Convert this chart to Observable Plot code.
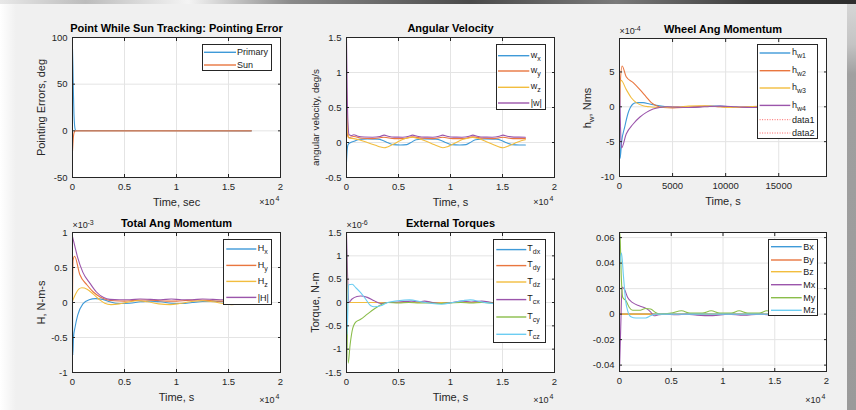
<!DOCTYPE html>
<html>
<head>
<meta charset="utf-8">
<script src="https://cdn.jsdelivr.net/npm/d3@7"></script>
<script src="https://cdn.jsdelivr.net/npm/@observablehq/plot@0.6"></script>
<style>
  html, body { margin: 0; padding: 0; background: #f0f0f0; }
  #fig { position: relative; width: 856px; height: 410px; overflow: hidden; background: #f0f0f0;
         font-family: "Liberation Sans", Arial, Helvetica, sans-serif; color: #262626; }
  #topbar { position: absolute; left: 0; top: 0; width: 856px; height: 4px;
    background: linear-gradient(90deg, #e8e8e8 0%, #bcbcbc 10%, #f4f4f4 22%, #8a8a8a 34%, #4a4a4a 55%, #7a7a7a 72%, #3c3c3c 88%, #2e2e2e 100%); }
  #leftfade { position: absolute; left: 0; top: 4px; width: 16px; height: 406px; background: linear-gradient(90deg, #ffffff, #f0f0f0); }
  #rightbar { position: absolute; left: 847px; top: 4px; width: 9px; height: 406px;
    background: linear-gradient(180deg, #d6d6d6 0px, #c4c4c4 40px, #a0a0a0 70px, #9a9a9a 100%); }
  .legend { position: absolute; background: #fff; border: 1px solid #262626; box-sizing: border-box;
            font-size: 9px; color: #1a1a1a; }
  .legend span { position: absolute; white-space: nowrap; line-height: 1; transform: translateY(-50%); }
  .legend sub { font-size: 7px; vertical-align: -3px; line-height: 1; }
  .legend svg.lg { position: absolute; left: 0; top: 0; overflow: visible; }
  .ylab { position: absolute; white-space: nowrap; font-size: 11px; color: #262626; line-height: 1;
          transform: translate(-50%, -50%) rotate(-90deg); }
  .ylab sub { font-size: 8px; vertical-align: -3px; line-height: 1; }
  svg { position: absolute; overflow: visible; }
</style>
</head>
<body>
<div id="fig"><div id="topbar"></div><div id="leftfade"></div><div id="rightbar"></div></div>
<script>
// ---------------- colours (MATLAB default order, as they appear) ----------------
const BLUE = "#3f9ad8", ORANGE = "#e9763f", YELLOW = "#f2bd3e", PURPLE = "#9b55ab", GREEN = "#8abd4a", CYAN = "#6ccdf2", RED = "#ff6060";

// ---------------- tick values ----------------
const timeTicks = [0, 5000, 10000, 15000, 20000];
const wheelTimeTicks = [0, 5000, 10000, 15000];
const peYTicks = [-50, 0, 50, 100];
const avYTicks = [-0.5, 0, 0.5, 1, 1.5];
const hwYTicks = [-10, -5, 0, 5];
const hYTicks = [-1, -0.5, 0, 0.5, 1];
const tqYTicks = [-1.5, -1, -0.5, 0, 0.5, 1, 1.5];
const bmYTicks = [-0.04, -0.02, 0, 0.02, 0.04, 0.06];

// ---------------- Panel 1: pointing error (deg) vs time (s) ----------------
const peNames = ["Primary", "Sun"];
const pePrimary = [[0,88],[40,70],[90,40],[140,18],[200,6],[260,1.5],[320,0.2],[17200,0]];
const peSun = [[0,-22],[40,-14],[90,-6],[140,-2.5],[200,-0.8],[300,0],[17200,0]];

// ---------------- Panel 2: angular velocity (deg/s) ----------------
const avNames = ["w_x", "w_y", "w_z", "|w|"];
const avWx = [[0,-0.28],[60,-0.12],[150,-0.03],[400,0.0],[800,0.02],[1200,0.045],[2000,0.05],[3000,0.048],[3500,0.03],[4000,-0.005],[4500,-0.03],[5200,-0.035],[5800,-0.03],[6200,0.0],[6700,0.04],[7500,0.05],[8600,0.048],[9100,0.03],[9600,-0.005],[10100,-0.03],[10900,-0.035],[11500,-0.03],[11900,0.0],[12400,0.04],[13300,0.05],[14400,0.048],[14900,0.03],[15400,-0.005],[15900,-0.03],[16600,-0.035],[17200,-0.035]];
const avWy = [[0,0.5],[80,0.12],[200,0.07],[700,0.085],[1500,0.06],[2500,0.055],[3600,0.075],[4600,0.055],[5500,0.055],[6350,0.08],[7300,0.06],[8300,0.055],[9250,0.075],[10200,0.055],[11200,0.055],[12150,0.08],[13100,0.06],[14100,0.055],[15050,0.075],[16000,0.055],[17200,0.055]];
const avWz = [[0,0.78],[100,0.3],[200,0.08],[300,0.06],[700,0.055],[1200,0.04],[2000,0.0],[2800,-0.04],[3300,-0.065],[3600,-0.075],[4000,-0.06],[4700,-0.01],[5500,0.05],[6000,0.07],[6350,0.075],[6800,0.06],[7600,0.02],[8400,-0.03],[9000,-0.065],[9250,-0.075],[9700,-0.06],[10400,-0.01],[11200,0.045],[11800,0.065],[12150,0.072],[12600,0.06],[13400,0.015],[14200,-0.035],[14800,-0.07],[15050,-0.075],[15500,-0.055],[16200,-0.01],[16800,0.025],[17200,0.04]];
const avMag = [[0,1.5],[60,0.8],[150,0.25],[250,0.11],[450,0.1],[700,0.11],[1100,0.09],[1700,0.078],[2500,0.076],[3200,0.085],[3620,0.105],[4000,0.09],[4600,0.077],[5400,0.076],[6000,0.09],[6350,0.105],[6800,0.09],[7500,0.077],[8300,0.076],[8900,0.09],[9250,0.105],[9650,0.09],[10300,0.077],[11100,0.076],[11800,0.09],[12150,0.105],[12550,0.09],[13200,0.077],[14000,0.076],[14700,0.09],[15050,0.105],[15450,0.09],[16100,0.077],[17200,0.076]];

// ---------------- Panel 3: wheel angular momentum (x1e-4 Nms) ----------------
const hwNames = ["h_w1", "h_w2", "h_w3", "h_w4", "data1", "data2"];
const hw1 = [[0,0],[60,-7.4],[200,-5],[475,-3],[790,-1],[1266,0.4],[1582,0.6],[2215,0.6],[2850,0.4],[3480,0.2],[4430,0],[5500,-0.1],[6500,-0.1],[7500,0],[8500,0.1],[9500,0.1],[10500,0],[11500,-0.1],[12500,-0.05],[13500,0.05],[14500,0.1],[15500,0.05],[16500,-0.05],[17200,-0.1]];
const hw2 = [[0,0],[60,3],[250,5.85],[630,4.3],[1266,3.5],[1900,2.5],[2530,1.4],[3000,0.6],[3480,0.15],[4110,-0.1],[5000,-0.15],[6000,-0.1],[7000,0],[8000,0.1],[9000,0.05],[10000,-0.05],[11000,-0.1],[12000,-0.05],[13000,0.05],[14000,0.1],[15000,0.05],[16000,-0.05],[17200,-0.1]];
const hw3 = [[0,0],[60,3],[150,3.8],[630,2.5],[1108,1.3],[1582,0.6],[2215,0.14],[2850,0],[3500,-0.1],[4500,-0.05],[5500,0],[6500,0.1],[7500,0.15],[8500,0.1],[9500,0],[10500,-0.1],[11500,-0.05],[12500,0.05],[13500,0.1],[14500,0.05],[15500,0],[17200,-0.05]];
const hw4 = [[0,4.5],[80,-2],[190,-5.9],[633,-3.9],[1266,-2.5],[1900,-1.5],[2530,-0.8],[3165,-0.33],[3800,-0.1],[4500,0],[5500,-0.05],[6500,-0.1],[7500,-0.05],[8500,0.05],[9500,0.1],[10500,0.05],[11500,-0.05],[12500,-0.1],[13500,-0.05],[14500,0.05],[15500,0.05],[17200,0]];

// ---------------- Panel 4: total angular momentum (x1e-3 N-m-s) ----------------
const hNames = ["H_x", "H_y", "H_z", "|H|"];
const hX = [[0,0],[30,-0.75],[100,-0.5],[250,-0.35],[500,-0.18],[1000,-0.02],[1600,0.04],[2200,0.055],[2900,0.045],[3600,0.01],[4500,-0.015],[5500,-0.01],[6500,0.01],[7500,0.02],[8500,0.01],[9500,-0.01],[10500,-0.015],[11500,0],[12500,0.015],[13500,0.02],[14500,0.01],[15500,-0.005],[16500,-0.01],[17200,-0.01]];
const hY = [[0,0],[50,0.6],[200,0.66],[700,0.4],[1400,0.25],[2000,0.15],[2650,0.08],[3300,0.04],[4000,0.025],[5000,0.02],[6000,0.03],[7000,0.035],[8000,0.03],[9000,0.02],[10000,0.02],[11000,0.03],[12000,0.035],[13000,0.03],[14000,0.02],[15000,0.02],[16000,0.03],[17200,0.03]];
const hZ = [[0,0.02],[300,0.12],[600,0.19],[900,0.21],[1400,0.19],[2000,0.12],[2600,0.04],[3100,-0.01],[3700,-0.03],[4500,-0.02],[5300,0.005],[6300,0.025],[7200,0.01],[8300,-0.02],[9400,-0.03],[10300,-0.015],[11300,0.01],[12500,0.025],[13500,0.01],[14500,-0.015],[15300,-0.03],[16300,-0.01],[17200,0.01]];
const hMag = [[0,0.94],[200,0.82],[500,0.64],[1000,0.43],[1700,0.27],[2300,0.15],[3000,0.07],[3600,0.045],[4500,0.04],[5500,0.04],[6500,0.05],[7500,0.045],[8500,0.04],[9500,0.05],[10500,0.04],[11500,0.04],[12500,0.05],[13500,0.045],[14500,0.04],[15500,0.045],[17200,0.04]];

// ---------------- Panel 5: external torques (x1e-6 N-m) ----------------
const tqNames = ["T_dx", "T_dy", "T_dz", "T_cx", "T_cy", "T_cz"];
const tDx = [[0,0],[17200,0]];
const tDy = [[0,0],[17200,0]];
const tDz = [[0,0],[17200,0]];
const tCx = [[0,1.5],[100,0.6],[230,0],[500,0.07],[1000,0.13],[1360,0.14],[2000,0.11],[2660,0.036],[3300,-0.02],[3960,0],[5000,0.01],[6230,0.03],[6900,0.015],[7500,0.03],[8300,0.0],[9150,-0.02],[10000,-0.005],[11100,0.03],[12000,0.01],[13000,0.03],[14000,0.0],[15000,-0.02],[16000,0.0],[17200,0.02]];
const tCy = [[0,1.14],[160,-1.3],[350,-0.9],[550,-0.6],[880,-0.42],[1360,-0.36],[2000,-0.25],[2660,-0.14],[3300,-0.05],[3960,0],[5000,-0.01],[6000,0.0],[7000,-0.01],[8000,-0.01],[9000,-0.02],[10000,-0.01],[11000,0],[12000,-0.01],[13000,0],[14000,-0.01],[15000,-0.01],[17200,0]];
const tCz = [[0,0],[60,-0.68],[200,0.38],[550,0.39],[880,0.32],[1360,0.21],[1850,0.07],[2340,-0.07],[2660,-0.09],[3300,-0.07],[3960,0],[4900,0.036],[6070,0.057],[7200,0.014],[8200,-0.02],[9150,-0.036],[10200,0.0],[11200,0.04],[11900,0.057],[13000,0.01],[14000,-0.02],[15000,-0.03],[16000,0],[17200,0.04]];

// ---------------- Panel 6: B and M components ----------------
const bmNames = ["Bx", "By", "Bz", "Mx", "My", "Mz"];
const bX = [[0,0],[17200,0]];
const bY = [[0,0],[17200,0]];
const bZ = [[0,0.034],[30,0],[17200,0]];
const mX = [[0,-0.045],[120,-0.01],[250,0.0213],[475,0.0195],[790,0.013],[1270,0.009],[1900,0.0065],[2530,0.0047],[3000,0.0018],[3320,-0.0013],[3800,-0.0005],[4300,0],[5500,-0.0005],[6500,0],[7500,-0.0008],[9000,-0.0012],[10500,0],[12000,-0.0008],[13500,0],[15000,-0.001],[17200,0]];
const mY = [[0,0.064],[60,0.06],[170,0.03],[316,0.013],[630,0.0104],[950,0.0052],[1270,0.003],[1900,0.003],[2530,0.0044],[3000,0.004],[3480,0.0013],[3950,0],[5000,0.0008],[6000,0.0026],[6800,0.0008],[8000,0.0008],[8860,0.0026],[9700,0.0008],[10800,0.0008],[11550,0.0026],[12400,0.0008],[13500,0.0008],[14240,0.0026],[15000,0.0008],[17200,0.001]];
const mZ = [[0,0.035],[190,0.048],[380,0.03],[600,0.01],[790,0.0026],[1100,-0.002],[1580,-0.003],[2530,-0.003],[3000,-0.0013],[3480,0],[17200,0]];

// ---------------- helpers ----------------
const AXIS = "#262626", GRID = "#e4e4e4";
const SVGNS = "http://www.w3.org/2000/svg";
const num = v => String(+v.toFixed(4));
const t1e4 = v => num(v / 1e4);
const subHtml = s => { const i = s.indexOf("_"); return i < 0 ? s : s.slice(0, i) + "<sub>" + s.slice(i + 1) + "</sub>"; };
const fig = document.getElementById("fig");

const panels = [
  { box: [72, 280, 37, 177], xdom: [0, 20000], ydom: [-50, 100], xticks: timeTicks, yticks: peYTicks, xfmt: t1e4,
    title: "Point While Sun Tracking: Pointing Error", xlabel: "Time, sec", ylabel: "Pointing Errors, deg",
    xexp: "4", xexpDy: 25, series: [pePrimary, peSun], colors: [BLUE, ORANGE], names: peNames,
    legend: { x: 202, y: 44, w: 70, h: 27, lx0: 2, lx1: 34, tx: 35, rows: [8.3, 21] } },
  { box: [346, 554, 37, 177], xdom: [0, 20000], ydom: [-0.5, 1.5], xticks: timeTicks, yticks: avYTicks, xfmt: t1e4,
    title: "Angular Velocity", xlabel: "Time, s", ylabel: "angular velocity, deg/s", ylabelSize: 9.8, ylabelShift: 10,
    xexp: "4", xexpDy: 25, series: [avWx, avWy, avWz, avMag], colors: [BLUE, ORANGE, YELLOW, PURPLE], names: avNames,
    legend: { x: 496, y: 44, w: 49.5, h: 66, lx0: 2, lx1: 33.3, tx: 34.7, rows: [11.7, 27, 43.3, 59] } },
  { box: [619, 826, 38, 176], xdom: [0, 19500], ydom: [-10, 9.8], xticks: wheelTimeTicks, yticks: hwYTicks, xfmt: num,
    title: "Wheel Ang Momentum", xlabel: "Time, s", ylabelHtml: "h<sub>w</sub>, Nms",
    yexp: "-4", series: [hw1, hw2, hw3, hw4], colors: [BLUE, ORANGE, YELLOW, PURPLE, RED, RED], names: hwNames, dotted: [4, 5],
    legend: { x: 756.7, y: 44.3, w: 61, h: 95, lx0: 2.6, lx1: 33.3, tx: 35.3, rows: [9, 26.7, 44, 61.4, 75.7, 89] } },
  { box: [72, 280, 232, 372], xdom: [0, 20000], ydom: [-1, 1], xticks: timeTicks, yticks: hYTicks, xfmt: t1e4,
    title: "Total Ang Momentum", xlabel: "Time, s", ylabel: "H, N-m-s",
    xexp: "4", xexpDy: 28, yexp: "-3", series: [hX, hY, hZ, hMag], colors: [BLUE, ORANGE, YELLOW, PURPLE], names: hNames,
    legend: { x: 222.7, y: 239.3, w: 49.5, h: 66, lx0: 3.3, lx1: 33.3, tx: 35, rows: [10, 26.4, 42.4, 58.4] } },
  { box: [346, 554, 232, 372], xdom: [0, 20000], ydom: [-1.5, 1.5], xticks: timeTicks, yticks: tqYTicks, xfmt: t1e4,
    title: "External Torques", xlabel: "Time, s", ylabel: "Torque, N-m",
    xexp: "4", xexpDy: 28, yexp: "-6", series: [tDx, tDy, tDz, tCx, tCy, tCz], colors: [BLUE, ORANGE, YELLOW, PURPLE, GREEN, CYAN], names: tqNames,
    legend: { x: 492.7, y: 238.7, w: 53, h: 104.6, lx0: 3.3, lx1: 33.3, tx: 34.6, rows: [10.6, 26.6, 43, 60.6, 78, 95.3] } },
  { box: [619, 826, 232, 371], xdom: [0, 20000], ydom: [-0.045, 0.064], xticks: timeTicks, yticks: bmYTicks, xfmt: t1e4,
    xexp: "4", xexpDy: 29, series: [bX, bY, bZ, mX, mY, mZ], colors: [BLUE, ORANGE, YELLOW, PURPLE, GREEN, CYAN], names: bmNames,
    legend: { x: 768.3, y: 239, w: 50, h: 77, lx0: 3, lx1: 33.7, tx: 35, rows: [7.7, 21, 32.7, 45.7, 58.7, 71.3] } }
];

function makePanel(p) {
  const [L, R, T, B] = p.box;
  const ml = 70, mr = 20, mt = 30, mb = 40;
  const marks = [
    Plot.frame({ fill: "#ffffff" }),
    Plot.gridX(p.xticks, { stroke: GRID, strokeOpacity: 1 }),
    Plot.gridY(p.yticks, { stroke: GRID, strokeOpacity: 1 })
  ];
  p.series.forEach((s, i) => marks.push(Plot.line(s, {
    x: d => d[0], y: d => d[1], stroke: p.colors[i], strokeWidth: 1.1, curve: "monotone-x", clip: true
  })));
  marks.push(
    Plot.frame({ stroke: AXIS, strokeWidth: 1 }),
    Plot.axisX(p.xticks, { anchor: "bottom", tickSize: 0, tickPadding: 6, tickFormat: p.xfmt, fontSize: 9.5, color: AXIS, label: null }),
    Plot.axisX(p.xticks, { anchor: "bottom", tickSize: -3, tickFormat: () => "", color: AXIS, label: null }),
    Plot.axisX(p.xticks, { anchor: "top", tickSize: -3, tickFormat: () => "", color: AXIS, label: null }),
    Plot.axisY(p.yticks, { anchor: "left", tickSize: 0, tickPadding: 5, tickFormat: num, fontSize: 9.5, color: AXIS, label: null }),
    Plot.axisY(p.yticks, { anchor: "left", tickSize: -3, tickFormat: () => "", color: AXIS, label: null }),
    Plot.axisY(p.yticks, { anchor: "right", tickSize: -3, tickFormat: () => "", color: AXIS, label: null })
  );
  if (p.title) marks.push(Plot.text([p.title], { text: d => d, frameAnchor: "top", dy: -9, lineAnchor: "middle", fontWeight: "bold", fontSize: 11, fill: "#000" }));
  if (p.xlabel) marks.push(Plot.text([p.xlabel], { text: d => d, frameAnchor: "bottom", dy: 25, lineAnchor: "middle", fontSize: 11, fill: AXIS }));
  if (p.ylabel) marks.push(Plot.text([p.ylabel], { text: d => d, frameAnchor: "left", dx: -31, dy: p.ylabelShift || 0, rotate: -90, textAnchor: "middle", lineAnchor: "middle", fontSize: p.ylabelSize || 11, fill: AXIS }));
  if (p.xexp) marks.push(
    Plot.text(["×10"], { text: d => d, frameAnchor: "bottom-right", textAnchor: "end", dx: -6, dy: p.xexpDy, lineAnchor: "middle", fontSize: 9, fill: AXIS }),
    Plot.text([p.xexp], { text: d => d, frameAnchor: "bottom-right", textAnchor: "end", dx: -1, dy: p.xexpDy - 4, lineAnchor: "middle", fontSize: 7, fill: AXIS })
  );
  if (p.yexp) marks.push(
    Plot.text(["×10"], { text: d => d, frameAnchor: "top-left", textAnchor: "start", dx: 0, dy: -7, lineAnchor: "middle", fontSize: 9, fill: AXIS }),
    Plot.text([p.yexp], { text: d => d, frameAnchor: "top-left", textAnchor: "start", dx: 15, dy: -10, lineAnchor: "middle", fontSize: 7, fill: AXIS })
  );
  const svg = Plot.plot({
    width: (R - L) + ml + mr, height: (B - T) + mt + mb,
    marginLeft: ml, marginRight: mr, marginTop: mt, marginBottom: mb,
    x: { domain: p.xdom }, y: { domain: p.ydom },
    style: { background: "transparent", fontFamily: '"Liberation Sans", Arial, Helvetica, sans-serif', color: AXIS, overflow: "visible" },
    marks
  });
  svg.style.position = "absolute";
  svg.style.left = (L - ml) + "px";
  svg.style.top = (T - mt) + "px";
  fig.appendChild(svg);

  if (p.ylabelHtml) {
    const d = document.createElement("div");
    d.className = "ylab";
    d.innerHTML = p.ylabelHtml;
    d.style.left = (L - 30) + "px";
    d.style.top = ((T + B) / 2 + 1) + "px";
    fig.appendChild(d);
  }

  // legend box (MATLAB style): sample line + label for each series
  const lg = p.legend;
  const box = document.createElement("div");
  box.className = "legend";
  Object.assign(box.style, { left: lg.x + "px", top: lg.y + "px", width: lg.w + "px", height: lg.h + "px" });
  const ls = document.createElementNS(SVGNS, "svg");
  ls.setAttribute("class", "lg");
  ls.setAttribute("width", lg.w);
  ls.setAttribute("height", lg.h);
  box.appendChild(ls);
  p.names.forEach((name, i) => {
    const y = lg.rows[i] - 1;
    const dotted = p.dotted && p.dotted.includes(i);
    const line = document.createElementNS(SVGNS, "line");
    line.setAttribute("x1", lg.lx0 - 1);
    line.setAttribute("x2", lg.lx1 - 1);
    line.setAttribute("y1", y);
    line.setAttribute("y2", y);
    line.setAttribute("stroke", p.colors[i]);
    line.setAttribute("stroke-width", dotted ? 1 : 1.4);
    if (dotted) line.setAttribute("stroke-dasharray", "1 1.5");
    ls.appendChild(line);
    const tx = document.createElement("span");
    tx.innerHTML = subHtml(name);
    tx.style.left = (lg.tx - 1) + "px";
    tx.style.top = y + "px";
    box.appendChild(tx);
  });
  fig.appendChild(box);
}

panels.forEach(makePanel);
</script>
</body>
</html>
